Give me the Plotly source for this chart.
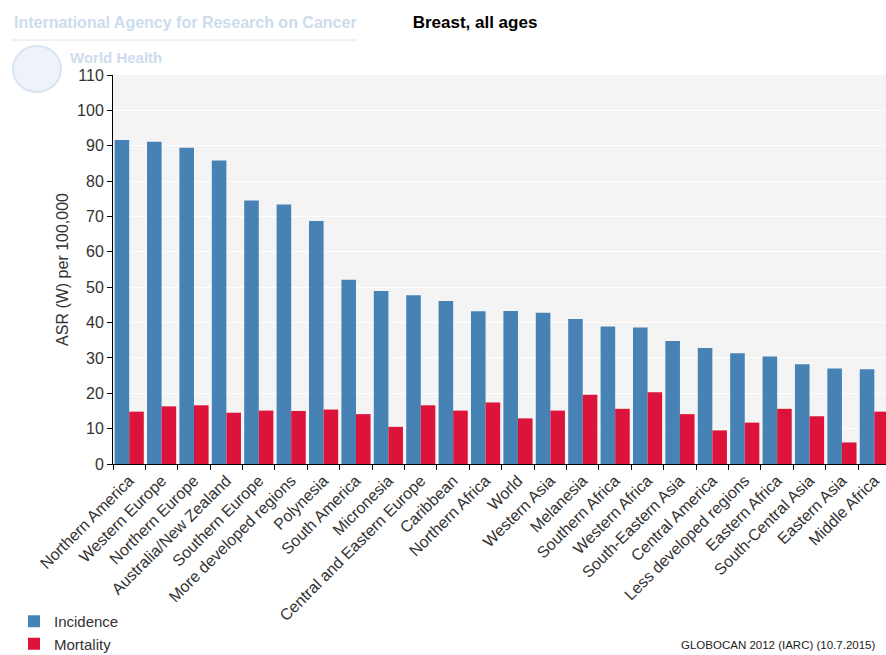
import plotly.graph_objects as go

categories = ["Northern America", "Western Europe", "Northern Europe", "Australia/New Zealand",
              "Southern Europe", "More developed regions", "Polynesia", "South America",
              "Micronesia", "Central and Eastern Europe", "Caribbean", "Northern Africa",
              "World", "Western Asia", "Melanesia", "Southern Africa", "Western Africa",
              "South-Eastern Asia", "Central America", "Less developed regions",
              "Eastern Africa", "South-Central Asia", "Eastern Asia", "Middle Africa"]
incidence = [91.6, 91.1, 89.4, 85.8, 74.5, 73.4, 68.7, 52.1, 48.9, 47.7, 46.1, 43.2,
             43.3, 42.8, 41.0, 38.9, 38.6, 34.8, 32.8, 31.3, 30.4, 28.2, 27.0, 26.8]
mortality = [14.8, 16.3, 16.6, 14.5, 15.1, 15.0, 15.4, 14.1, 10.5, 16.6, 15.1, 17.4,
             12.9, 15.1, 19.6, 15.6, 20.3, 14.1, 9.5, 11.7, 15.6, 13.5, 6.1, 14.8]
y_ticks = list(range(0, 111, 10))

FONT = "Liberation Sans, Arial, sans-serif"
BLUE = "#4682b4"
RED = "#dc143c"
W, H = 886, 655

# plot area in pixels: left 113, right 886, top 75, bottom 464
PL, PW, PB, PH = 113, 773, 464, 389


def px(x):
    return (x - PL) / PW


def py(y):
    return (PB - y) / PH


fig = go.Figure()
fig.add_trace(go.Bar(x=categories, y=incidence, name="Incidence", marker_color=BLUE,
                     marker_line_width=0))
fig.add_trace(go.Bar(x=categories, y=mortality, name="Mortality", marker_color=RED,
                     marker_line_width=0))

fig.update_layout(
    width=W, height=H,
    margin=dict(l=113, r=0, t=75, b=191, autoexpand=False),
    paper_bgcolor="white", plot_bgcolor="#f4f4f4",
    barmode="group", bargap=0.1, bargroupgap=0,
    font=dict(family=FONT, size=16, color="#333333"),
    showlegend=True,
    legend=dict(x=px(14), y=py(605), xanchor="left", yanchor="top",
                orientation="v", font=dict(size=15, color="#333333"),
                bgcolor="rgba(0,0,0,0)", itemwidth=30),
    title=dict(text="<b>Breast, all ages</b>", x=475 / W, xref="container",
               xanchor="center", y=1 - 22 / H, yanchor="middle",
               font=dict(family=FONT, size=17, color="#000000")),
)

fig.update_xaxes(
    type="category", range=[-0.5, 23.36], tickangle=-45,
    tickson="boundaries", ticks="outside", ticklen=5, tickcolor="#000000",
    showline=True, linecolor="#000000", linewidth=1,
    showgrid=False, tickfont=dict(size=16, color="#333333"),
)
fig.update_yaxes(
    range=[0, 110], tickvals=y_ticks, ticks="outside", ticklen=5, tickcolor="#000000",
    showline=True, linecolor="#000000", linewidth=1,
    gridcolor="#ffffff", gridwidth=1, zeroline=False,
    tickfont=dict(size=16, color="#333333"),
    title=dict(text="ASR (W) per 100,000", font=dict(size=16, color="#333333"), standoff=4),
)

# watermark header
fig.add_annotation(text="<b>International Agency for Research on Cancer</b>",
                   xref="paper", yref="paper", x=px(12), y=py(22),
                   xanchor="left", yanchor="middle", showarrow=False,
                   font=dict(family=FONT, size=16, color="#cddced"))
fig.add_shape(type="line", xref="paper", yref="paper",
              x0=px(12), x1=px(357), y0=py(40), y1=py(40),
              line=dict(color="#d8e4ef", width=1))
fig.add_shape(type="circle", xref="paper", yref="paper",
              x0=px(13), x1=px(61), y0=py(92), y1=py(46),
              line=dict(color="#d8e4ef", width=2), fillcolor="rgba(220,232,242,0.5)")
fig.add_annotation(text="<b>World Health</b>",
                   xref="paper", yref="paper", x=px(68), y=py(58),
                   xanchor="left", yanchor="middle", showarrow=False,
                   font=dict(family=FONT, size=15, color="#cddced"))

# footer
fig.add_annotation(text="GLOBOCAN 2012 (IARC) (10.7.2015)",
                   xref="paper", yref="paper", x=px(877), y=py(645),
                   xanchor="right", yanchor="middle", showarrow=False,
                   font=dict(family=FONT, size=11.5, color="#222222"))

fig.write_html("out.html", config={"displayModeBar": False},
               post_script="document.body.style.margin='0px';")
